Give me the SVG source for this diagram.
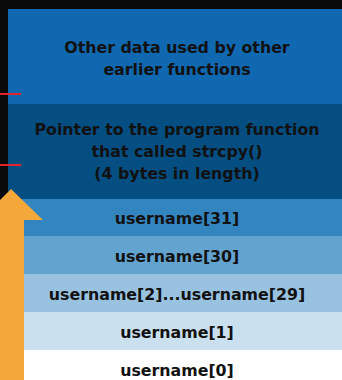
<svg xmlns="http://www.w3.org/2000/svg" width="342" height="380" viewBox="0 0 342 380">
<style>
.t{font-family:"DejaVu Sans","Liberation Sans",sans-serif;font-weight:bold;font-size:15.8px;fill:#111;text-anchor:middle}
.red{stroke:#e0242a;stroke-width:2}
</style>
<rect width="342" height="380" fill="#0a0a0a"/>
<g id="other-data">
<rect x="8" y="9" width="334" height="95" fill="#1068b0"/>
<text class="t" x="177" y="53">Other data used by other</text>
<text class="t" x="177" y="75">earlier functions</text>
</g>
<g id="return-pointer">
<rect x="8" y="104" width="334" height="95" fill="#044e82"/>
<text class="t" x="177" y="135">Pointer to the program function</text>
<text class="t" x="177" y="157">that called strcpy()</text>
<text class="t" x="177" y="179">(4 bytes in length)</text>
</g>
<g id="username31">
<rect x="8" y="199" width="334" height="37" fill="#3385c0"/>
<text class="t" x="177" y="224">username[31]</text>
</g>
<g id="username30">
<rect x="8" y="236" width="334" height="38" fill="#62a3d0"/>
<text class="t" x="177" y="262">username[30]</text>
</g>
<g id="username2-29">
<rect x="8" y="274" width="334" height="38" fill="#99c2e0"/>
<text class="t" x="177" y="300">username[2]...username[29]</text>
</g>
<g id="username1">
<rect x="8" y="312" width="334" height="38" fill="#cae0ef"/>
<text class="t" x="177" y="338">username[1]</text>
</g>
<g id="username0">
<rect x="8" y="350" width="334" height="30" fill="#ffffff"/>
<text class="t" x="177" y="376">username[0]</text>
</g>
<g id="connectors">
<line class="red" x1="0" y1="94" x2="21" y2="94"/>
<line class="red" x1="0" y1="165" x2="21" y2="165"/>
<polygon id="growth-arrow" points="-1,380 -1,220 -20,220 11,189 43,220 24,220 24,380" fill="#f4a83a"/>
</g>
</svg>
